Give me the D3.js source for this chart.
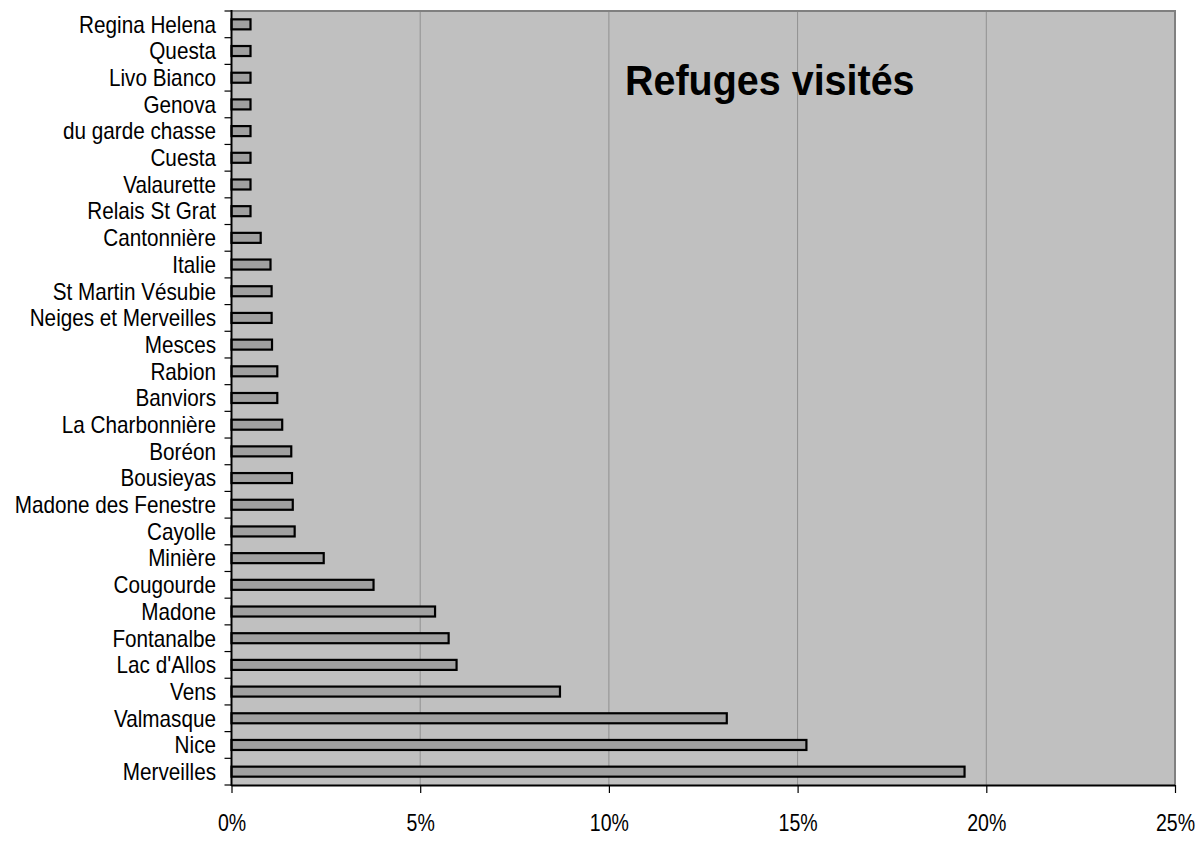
<!DOCTYPE html>
<html><head><meta charset="utf-8">
<script src="https://cdn.jsdelivr.net/npm/d3@7"></script>
<style>
html,body{margin:0;padding:0;background:#fff;}
svg text{font-family:"Liberation Sans",Arial,sans-serif;fill:#000;}
</style></head>
<body><svg id="chart" width="1204" height="841"></svg>
<script>
const categories = ["Regina Helena","Questa","Livo Bianco","Genova","du garde chasse","Cuesta","Valaurette","Relais St Grat","Cantonnière","Italie","St Martin Vésubie","Neiges et Merveilles","Mesces","Rabion","Banviors","La Charbonnière","Boréon","Bousieyas","Madone des Fenestre","Cayolle","Minière","Cougourde","Madone","Fontanalbe","Lac d'Allos","Vens","Valmasque","Nice","Merveilles"];
const values = [0.53,0.53,0.53,0.53,0.53,0.53,0.53,0.53,0.80,1.06,1.09,1.09,1.10,1.24,1.24,1.37,1.61,1.63,1.65,1.70,2.47,3.79,5.42,5.78,5.99,8.73,13.15,15.26,19.45];
const tickValues = [0,5,10,15,20,25];
const title = "Refuges visités";

const svg = d3.select("#chart");
const L = 231.5, R = 1175, T = 11, B = 785;
const x = d3.scaleLinear().domain([0,25]).range([L,R]);
const y = d3.scaleBand().domain(categories).range([T,B]).paddingInner(0.55).paddingOuter(0.275);
const yb = d3.scaleBand().domain(categories).range([T,B]);

// plot background
svg.append("rect").attr("x",L).attr("y",T).attr("width",R-L).attr("height",B-T).attr("fill","#c0c0c0");
// gridlines
svg.append("g").selectAll("line").data(tickValues.slice(1,-1)).join("line")
  .attr("x1",d=>x(d)).attr("x2",d=>x(d)).attr("y1",T).attr("y2",B)
  .attr("stroke","#909090").attr("stroke-width",1);
// top & right border
svg.append("path").attr("d",`M${L},${T} H${R} V${B}`).attr("fill","none").attr("stroke","#808080").attr("stroke-width",2);

// bars
svg.append("g").selectAll("rect").data(categories).join("rect")
  .attr("x",x(0)).attr("y",(d)=>y(d)+1)
  .attr("width",(d,i)=>x(values[i])-x(0)-1).attr("height",y.bandwidth()-2)
  .attr("fill","#a0a0a0").attr("stroke","#000").attr("stroke-width",2.2);

// left axis
const yAxis = d3.axisLeft(yb).tickSize(0).tickPadding(15);
const gy = svg.append("g").attr("transform",`translate(${L},0)`).call(yAxis);
gy.select(".domain").remove();
gy.selectAll("text").attr("font-size",23).attr("x",0).attr("dy","0.36em")
  .attr("transform","translate(-15.5,0) scale(0.9,1)");
// category boundary ticks
const bounds = categories.map(c=>yb(c)).concat([B]);
svg.append("g").selectAll("line").data(bounds).join("line")
  .attr("x1",L-7).attr("x2",L).attr("y1",d=>d).attr("y2",d=>d)
  .attr("stroke","#000").attr("stroke-width",1.2);
svg.append("line").attr("x1",L).attr("x2",L).attr("y1",T-1).attr("y2",B+1).attr("stroke","#000").attr("stroke-width",2);

// bottom axis
const xAxis = d3.axisBottom(x).tickValues(tickValues).tickFormat(d=>d+"%").tickSize(8).tickPadding(22);
const gx = svg.append("g").attr("transform",`translate(0,${B})`).call(xAxis);
gx.select(".domain").attr("stroke","#000").attr("stroke-width",2).attr("d",`M${L},0.5H${R}`);
gx.selectAll(".tick line").attr("stroke","#000").attr("stroke-width",1.2);
gx.selectAll("text").attr("font-size",23).attr("transform","scale(0.85,1)")
  .each(function(){ const t=d3.select(this); t.attr("x", 0); });
gx.selectAll(".tick text").attr("transform","scale(0.85,1)");

// title
svg.append("text").attr("transform","translate(625,95) scale(0.94,1)").attr("font-size",42).attr("font-weight","bold").text(title);
</script></body></html>
